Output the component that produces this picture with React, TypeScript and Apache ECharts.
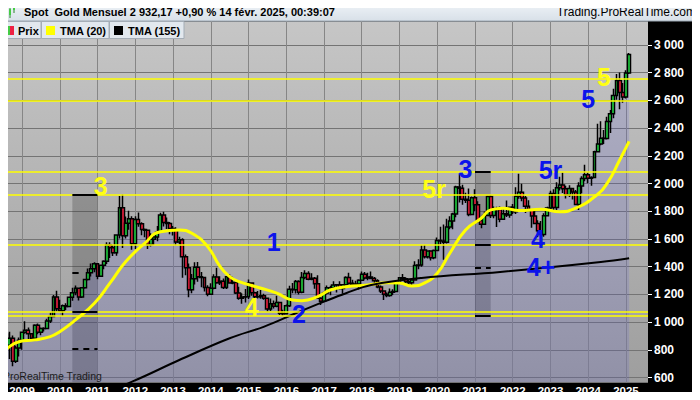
import React, { useEffect, useRef } from 'react';
import * as echarts from 'echarts';

// month categories, Jun 2008 .. Aug 2025 (x axis)
const months: string[] = [];
for (let y = 2008; y <= 2025; y++) {
  for (let m = 1; m <= 12; m++) {
    const key = y + '-' + String(m).padStart(2, '0');
    if (key >= '2008-06' && key <= '2025-08') months.push(key);
  }
}

// monthly candles, Jul 2008 .. Feb 2025
const opens = [
  928, 914, 833, 884, 717, 814,
  869, 927, 942, 916, 884, 978, 927, 954, 955, 1008, 1040, 1182,
  1097, 1083, 1118, 1113, 1180, 1213, 1244, 1181, 1248, 1308, 1357, 1386,
  1421, 1332, 1410, 1439, 1557, 1536, 1500, 1628, 1826, 1624, 1714, 1746,
  1565, 1740, 1710, 1669, 1664, 1560, 1598, 1614, 1648, 1773, 1719, 1712,
  1675, 1664, 1578, 1595, 1472, 1393, 1234, 1314, 1396, 1328, 1323, 1250,
  1202, 1244, 1326, 1284, 1296, 1250, 1327, 1282, 1287, 1210, 1172, 1182,
  1184, 1283, 1213, 1183, 1184, 1190, 1172, 1095, 1132, 1115, 1142, 1065,
  1061, 1118, 1238, 1234, 1293, 1215, 1322, 1351, 1309, 1316, 1277, 1173,
  1151, 1211, 1249, 1249, 1268, 1269, 1242, 1269, 1322, 1280, 1271, 1275,
  1303, 1345, 1318, 1325, 1315, 1298, 1253, 1224, 1201, 1192, 1215, 1222,
  1282, 1321, 1313, 1292, 1284, 1305, 1409, 1413, 1520, 1472, 1513, 1464,
  1517, 1589, 1585, 1577, 1687, 1730, 1781, 1975, 1967, 1886, 1879, 1776,
  1898, 1847, 1734, 1707, 1769, 1906, 1770, 1814, 1813, 1743, 1783, 1774,
  1829, 1796, 1908, 1937, 1896, 1837, 1807, 1766, 1711, 1660, 1633, 1768,
  1824, 1928, 1827, 1969, 1990, 1962, 1919, 1965, 1940, 1849, 1983, 2036,
  2063, 2039, 2044, 2230, 2286, 2327, 2326, 2447, 2503, 2635, 2744, 2657,
  2625, 2798,
];
const highs = [
  988, 916, 930, 904, 830, 889,
  932, 1007, 962, 918, 985, 990, 961, 964, 1024, 1070, 1196, 1227,
  1162, 1128, 1137, 1181, 1249, 1265, 1246, 1249, 1308, 1388, 1424, 1432,
  1424, 1411, 1447, 1576, 1577, 1556, 1632, 1911, 1921, 1763, 1804, 1764,
  1764, 1792, 1721, 1676, 1666, 1641, 1629, 1693, 1790, 1796, 1755, 1723,
  1694, 1684, 1616, 1605, 1488, 1424, 1348, 1433, 1434, 1361, 1324, 1267,
  1280, 1345, 1392, 1331, 1315, 1332, 1345, 1322, 1292, 1256, 1208, 1239,
  1307, 1285, 1220, 1224, 1232, 1205, 1175, 1170, 1157, 1191, 1142, 1089,
  1127, 1263, 1282, 1304, 1303, 1362, 1375, 1367, 1352, 1326, 1338, 1180,
  1220, 1264, 1262, 1295, 1272, 1296, 1274, 1331, 1357, 1306, 1299, 1309,
  1366, 1361, 1356, 1366, 1326, 1309, 1265, 1225, 1214, 1243, 1237, 1284,
  1326, 1347, 1324, 1310, 1306, 1439, 1453, 1555, 1557, 1517, 1517, 1525,
  1611, 1689, 1704, 1747, 1765, 1789, 1984, 2075, 1992, 1933, 1965, 1906,
  1959, 1872, 1755, 1798, 1913, 1916, 1834, 1832, 1835, 1814, 1877, 1831,
  1853, 1974, 2070, 1998, 1910, 1879, 1814, 1808, 1735, 1730, 1786, 1833,
  1949, 1959, 2010, 2049, 2079, 1984, 1987, 1966, 1953, 2009, 2052, 2135,
  2079, 2052, 2236, 2431, 2450, 2387, 2483, 2531, 2685, 2790, 2801, 2726,
  2817, 2942,
];
const lows = [
  908, 786, 735, 681, 705, 753,
  801, 916, 865, 865, 868, 913, 905, 932, 948, 993, 1037, 1076,
  1075, 1045, 1088, 1112, 1155, 1195, 1157, 1175, 1241, 1300, 1330, 1360,
  1309, 1325, 1381, 1419, 1462, 1478, 1480, 1603, 1535, 1603, 1666, 1523,
  1528, 1688, 1627, 1612, 1527, 1546, 1557, 1583, 1643, 1690, 1672, 1635,
  1625, 1555, 1562, 1321, 1338, 1180, 1208, 1271, 1292, 1251, 1221, 1187,
  1202, 1238, 1277, 1268, 1240, 1240, 1282, 1274, 1204, 1161, 1132, 1142,
  1167, 1190, 1142, 1170, 1169, 1162, 1077, 1080, 1098, 1107, 1052, 1046,
  1061, 1110, 1208, 1207, 1200, 1208, 1310, 1302, 1302, 1241, 1171, 1123,
  1146, 1200, 1195, 1244, 1214, 1236, 1205, 1267, 1271, 1261, 1264, 1236,
  1302, 1307, 1303, 1310, 1282, 1245, 1211, 1160, 1180, 1183, 1196, 1221,
  1276, 1303, 1281, 1266, 1267, 1300, 1381, 1400, 1459, 1459, 1445, 1454,
  1517, 1563, 1451, 1568, 1670, 1671, 1757, 1863, 1848, 1860, 1764, 1775,
  1802, 1717, 1677, 1705, 1766, 1751, 1750, 1687, 1721, 1740, 1758, 1753,
  1780, 1781, 1890, 1872, 1787, 1805, 1681, 1709, 1615, 1617, 1616, 1765,
  1804, 1805, 1810, 1950, 1932, 1893, 1903, 1885, 1846, 1810, 1931, 2017,
  2002, 1984, 2039, 2228, 2277, 2286, 2318, 2364, 2472, 2604, 2537, 2583,
  2614, 2790,
];
const closes = [
  914, 833, 884, 717, 814, 869,
  927, 942, 916, 884, 978, 927, 954, 955, 1008, 1040, 1182, 1097,
  1083, 1118, 1113, 1180, 1213, 1244, 1181, 1248, 1308, 1357, 1386, 1421,
  1332, 1410, 1439, 1557, 1536, 1500, 1628, 1826, 1624, 1714, 1746, 1565,
  1740, 1710, 1669, 1664, 1560, 1598, 1614, 1648, 1773, 1719, 1712, 1675,
  1664, 1578, 1595, 1472, 1393, 1234, 1314, 1396, 1328, 1323, 1250, 1202,
  1244, 1326, 1284, 1296, 1250, 1327, 1282, 1287, 1210, 1172, 1182, 1184,
  1283, 1213, 1183, 1184, 1190, 1172, 1095, 1132, 1115, 1142, 1065, 1061,
  1118, 1238, 1234, 1293, 1215, 1322, 1351, 1309, 1316, 1277, 1173, 1151,
  1211, 1249, 1249, 1268, 1269, 1242, 1269, 1322, 1280, 1271, 1275, 1303,
  1345, 1318, 1325, 1315, 1298, 1253, 1224, 1201, 1192, 1215, 1222, 1282,
  1321, 1313, 1292, 1284, 1305, 1409, 1413, 1520, 1472, 1513, 1464, 1517,
  1589, 1585, 1577, 1687, 1730, 1781, 1975, 1967, 1886, 1879, 1776, 1898,
  1847, 1734, 1707, 1769, 1906, 1770, 1814, 1813, 1743, 1783, 1774, 1829,
  1796, 1908, 1937, 1896, 1837, 1807, 1766, 1711, 1660, 1633, 1768, 1824,
  1928, 1827, 1969, 1990, 1962, 1919, 1965, 1940, 1849, 1983, 2036, 2063,
  2039, 2044, 2230, 2286, 2327, 2326, 2447, 2503, 2635, 2744, 2657, 2625,
  2798, 2932.17,
];

// TMA (20)
const tma20: [string, number][] = [
  ['2008-06', 751], ['2008-09', 823], ['2008-12', 859], ['2009-05', 872],
  ['2009-10', 896], ['2010-01', 931], ['2010-06', 1016], ['2010-12', 1136],
  ['2011-05', 1283], ['2011-10', 1437], ['2012-04', 1569], ['2012-09', 1653],
  ['2013-03', 1665], ['2013-07', 1641], ['2013-12', 1545], ['2014-04', 1400],
  ['2014-07', 1328], ['2014-10', 1292], ['2015-05', 1245], ['2015-10', 1209],
  ['2016-03', 1160], ['2016-06', 1155], ['2016-11', 1184], ['2017-03', 1232],
  ['2017-08', 1256], ['2018-03', 1268], ['2018-09', 1285], ['2019-01', 1283],
  ['2019-05', 1261], ['2019-09', 1283], ['2020-01', 1353], ['2020-05', 1497],
  ['2020-10', 1665], ['2021-03', 1750], ['2021-06', 1810], ['2021-10', 1822],
  ['2022-03', 1805], ['2022-10', 1815], ['2023-04', 1797], ['2023-09', 1822],
  ['2024-03', 1905], ['2024-07', 2002], ['2024-11', 2170], ['2025-02', 2303.85],
];

// TMA (155)
const tma155: [string, number][] = [
  ['2010-12', 470], ['2011-12', 571], ['2013-03', 727], ['2014-07', 884],
  ['2015-06', 968], ['2016-04', 1064], ['2017-01', 1148], ['2017-08', 1209],
  ['2018-04', 1268], ['2019-08', 1319], ['2021-09', 1362], ['2024-05', 1434],
  ['2025-02', 1461.28],
];

// horizontal support / resistance levels
const levels = [2755, 2596, 2084, 1918, 1562, 1076, 1043];

// Elliott wave labels: [month, price, text, colour]
const waves: [string, number, string, string][] = [
  ['2011-02', 1984, '3', '#ffff14'],
  ['2019-12', 1962, '5r', '#ffff14'],
  ['2020-10', 2102, '3', '#0c14ea'],
  ['2023-01', 2098, '5r', '#0c14ea'],
  ['2022-09', 1597, '4', '#0c14ea'],
  ['2022-10', 1400, '4+', '#0c14ea'],
  ['2015-09', 1581, '1', '#0c14ea'],
  ['2016-05', 1061, '2', '#0c14ea'],
  ['2015-02', 1106, '4', '#ffff14'],
  ['2024-01', 2612, '5', '#0c14ea'],
  ['2024-06', 2771, '5', '#ffff14'],
];

const FONT = '"Liberation Sans", Arial, sans-serif';

const fmt = (v: number, dec = 0) => {
  const [i, f] = v.toFixed(dec).split('.');
  const s = i.replace(/\B(?=(\d{3})+(?!\d))/g, ' ');
  return f ? s + ',' + f : s;
};

const App: React.FC = () => {
  const chartRef = useRef<HTMLDivElement>(null);

  useEffect(() => {
    const chart = echarts.init(chartRef.current!, undefined, { renderer: 'svg' });

    const candles: any[] = [['-', '-', '-', '-']];
    const area: any[] = ['-'];
    closes.forEach((c, i) => {
      candles.push([opens[i], c, lows[i], highs[i]]);
      area.push(c);
    });

    const seg = (x1: string, x2: string, y: number, dashed = false) => [
      { coord: [x1, y], lineStyle: { color: '#000', width: 2, type: dashed ? [6, 5] : 'solid' } },
      { coord: [x2, y] },
    ];

    const priceTag = (v: number, bg: any, fg: string) => ({
      yAxis: v,
      lineStyle: { width: 0, opacity: 0 },
      label: {
        show: true,
        position: 'end',
        distance: 4,
        formatter: fmt(v, 2),
        backgroundColor: bg,
        color: fg,
        fontFamily: FONT,
        fontWeight: 'bold',
        fontSize: 11,
        padding: [1, 2, 0, 2],
        borderColor: '#555',
        borderWidth: 1,
      },
    });

    const options: any = {
      animation: false,
      grid: { left: 0, right: 52, top: 21, bottom: 17.7, outerBoundsMode: 'none', containLabel: false },
      xAxis: {
        type: 'category',
        data: months,
        boundaryGap: false,
        axisLine: { show: false },
        axisTick: { show: false },
        axisLabel: {
          interval: (_i: number, v: string) => v.endsWith('-01'),
          formatter: (v: string) => v.slice(0, 4),
          color: '#fff',
          fontFamily: FONT,
          fontWeight: 'bold',
          fontSize: 11.5,
          lineHeight: 12,
          verticalAlign: 'middle',
          margin: 8.5,
        },
        splitLine: {
          show: true,
          interval: (_i: number, v: string) => v.endsWith('-01'),
          lineStyle: { color: '#868686', width: 1 },
        },
      },
      yAxis: {
        type: 'value',
        position: 'right',
        min: 566,
        max: 3173,
        splitNumber: 12,
        minInterval: 200,
        maxInterval: 200,
        axisLine: { show: false },
        axisTick: { show: true, length: 4, lineStyle: { color: '#fff' } },
        axisLabel: {
          showMinLabel: false,
          showMaxLabel: false,
          color: '#fff',
          fontFamily: FONT,
          fontWeight: 'bold',
          fontSize: 12,
          margin: 6,
          formatter: (v: number) => fmt(v),
        },
        splitLine: { show: true, lineStyle: { color: '#747474', width: 1 } },
      },
      graphic: [
        // plot background
        {
          type: 'rect', z: -10, silent: true,
          shape: { x: 0, y: 21, width: 648, height: 362 },
          style: {
            fill: { type: 'linear', x: 0, y: 0, x2: 0, y2: 1,
              colorStops: [{ offset: 0, color: '#c6c6c6' }, { offset: 1, color: '#9e9e9e' }] },
          },
        },
        { type: 'rect', z: -9, silent: true, shape: { x: 648, y: 21, width: 52, height: 379 }, style: { fill: '#000' } },
        { type: 'rect', z: -9, silent: true, shape: { x: 0, y: 382.3, width: 700, height: 18 }, style: { fill: '#000' } },
        // title bar
        {
          type: 'rect', z: 50, silent: true,
          shape: { x: 0, y: 0, width: 700, height: 21 },
          style: {
            fill: { type: 'linear', x: 0, y: 0, x2: 0, y2: 1,
              colorStops: [{ offset: 0, color: '#f2f6fa' }, { offset: 1, color: '#d8e0e8' }] },
            stroke: '#9aa6b2', lineWidth: 1,
          },
        },
        { type: 'line', z: 51, shape: { x1: 6, y1: 4, x2: 6, y2: 16 }, style: { stroke: '#2a8a2a', lineWidth: 1 } },
        { type: 'rect', z: 51, shape: { x: 5, y: 7, width: 2, height: 6 }, style: { fill: '#44cc44' } },
        { type: 'line', z: 51, shape: { x1: 10, y1: 6, x2: 10, y2: 18 }, style: { stroke: '#2a8a2a', lineWidth: 1 } },
        { type: 'rect', z: 51, shape: { x: 9, y: 9, width: 2, height: 6 }, style: { fill: '#44cc44' } },
        { type: 'line', z: 51, shape: { x1: 14, y1: 2, x2: 14, y2: 13 }, style: { stroke: '#2a8a2a', lineWidth: 1 } },
        { type: 'rect', z: 51, shape: { x: 13, y: 4, width: 2, height: 6 }, style: { fill: '#44cc44' } },
        {
          type: 'text', z: 51, x: 24, y: 11.5,
          style: { text: 'Spot  Gold Mensuel 2 932,17 +0,90 % 14 févr. 2025, 00:39:07', fill: '#000',
            font: 'bold 11px ' + FONT, verticalAlign: 'middle' },
        },
        {
          type: 'text', z: 51, x: 696, y: 12,
          style: { text: 'Trading.ProRealTime.com', fill: '#000', font: '12px ' + FONT,
            align: 'right', verticalAlign: 'middle' },
        },
        // legend boxes
        { type: 'rect', z: 50, shape: { x: 0.5, y: 21.5, width: 40.5, height: 17 }, style: { fill: '#e2e8ee', stroke: '#a4adb6' } },
        { type: 'rect', z: 50, shape: { x: 41.5, y: 21.5, width: 67.5, height: 17 }, style: { fill: '#e2e8ee', stroke: '#a4adb6' } },
        { type: 'rect', z: 50, shape: { x: 109.5, y: 21.5, width: 74.5, height: 17 }, style: { fill: '#e2e8ee', stroke: '#a4adb6' } },
        { type: 'rect', z: 51, shape: { x: 5, y: 26, width: 5, height: 9 }, style: { fill: '#44cc44' } },
        { type: 'rect', z: 51, shape: { x: 10, y: 26, width: 4, height: 9 }, style: { fill: '#ee2244' } },
        { type: 'rect', z: 51, shape: { x: 46, y: 26, width: 9, height: 9 }, style: { fill: '#ffff00' } },
        { type: 'rect', z: 51, shape: { x: 114, y: 26, width: 9, height: 9 }, style: { fill: '#000' } },
        { type: 'text', z: 51, x: 18, y: 30.5, style: { text: 'Prix', fill: '#000', font: 'bold 11px ' + FONT, verticalAlign: 'middle' } },
        { type: 'text', z: 51, x: 60, y: 30.5, style: { text: 'TMA (20)', fill: '#000', font: 'bold 11px ' + FONT, verticalAlign: 'middle' } },
        { type: 'text', z: 51, x: 128, y: 30.5, style: { text: 'TMA (155)', fill: '#000', font: 'bold 11px ' + FONT, verticalAlign: 'middle' } },
        {
          type: 'text', z: 20, x: 3, y: 376,
          style: { text: 'ProRealTime Trading', fill: '#1c1c1c', font: '10.5px ' + FONT, verticalAlign: 'middle' },
        },
      ],
      series: [
        {
          name: 'area',
          type: 'line',
          data: area,
          symbol: 'none',
          silent: true,
          z: 1,
          lineStyle: { width: 0 },
          areaStyle: { color: 'rgba(80, 80, 220, 0.22)', origin: 'start' },
          markArea: {
            silent: true,
            itemStyle: { color: 'rgba(40, 40, 40, 0.25)' },
            data: [
              [{ coord: ['2010-05', 1918] }, { coord: ['2011-01', 566] }],
              [{ coord: ['2021-01', 2084] }, { coord: ['2021-06', 1043] }],
            ],
          },
          markLine: {
            silent: true,
            symbol: ['none', 'none'],
            label: { show: false },
            lineStyle: { color: '#ffff00', width: 1.5, type: 'solid' },
            data: [
              ...levels.map((v) => ({ yAxis: v })),
              seg('2010-05', '2011-01', 1918),
              seg('2010-05', '2011-01', 1076),
              seg('2010-05', '2010-07', 1360),
              seg('2010-05', '2011-01', 806, true),
              seg('2021-01', '2021-06', 2084),
              seg('2021-01', '2021-06', 1562),
              seg('2021-01', '2021-06', 1391, true),
              seg('2021-01', '2021-06', 1043),
            ],
          },
        },
        {
          name: 'Prix',
          type: 'candlestick',
          data: candles,
          barWidth: 3.4,
          z: 3,
          itemStyle: {
            color: '#22dd44',
            color0: '#ff2244',
            borderColor: '#000',
            borderColor0: '#000',
            borderWidth: 1.5,
          },
          markPoint: {
            silent: true,
            symbol: 'circle',
            symbolSize: 1,
            itemStyle: { color: 'rgba(0,0,0,0)' },
            data: waves.map(([m, v, t, c]) => ({
              name: t,
              coord: [m, v],
              label: {
                show: true, position: 'inside', formatter: t, color: c,
                fontFamily: FONT, fontWeight: 'bold', fontSize: 25, lineHeight: 20,
              },
            })),
          },
          markLine: {
            silent: true,
            symbol: ['none', 'none'],
            data: [priceTag(closes[closes.length - 1], {
              type: 'linear', x: 0, y: 0, x2: 0, y2: 1,
              colorStops: [{ offset: 0, color: '#ffd21a' }, { offset: 1, color: '#eaa800' }],
            }, '#000')],
          },
        },
        {
          name: 'TMA (20)',
          type: 'line',
          data: tma20,
          smooth: 0.5,
          symbol: 'none',
          z: 4,
          lineStyle: { color: '#ffff00', width: 3 },
          markLine: {
            silent: true,
            symbol: ['none', 'none'],
            data: [priceTag(tma20[tma20.length - 1][1], '#9c9c9c', '#ffff00')],
          },
        },
        {
          name: 'TMA (155)',
          type: 'line',
          data: tma155,
          smooth: 0.4,
          symbol: 'none',
          z: 4,
          lineStyle: { color: '#000', width: 2 },
          markLine: {
            silent: true,
            symbol: ['none', 'none'],
            data: [priceTag(tma155[tma155.length - 1][1], '#a8a8a8', '#000')],
          },
        },
      ],
    };

    chart.setOption(options);

    return () => {
      chart.dispose();
    };
  }, []);

  return <div ref={chartRef} style={{ width: '700px', height: '400px', margin: '-8px' }}></div>;
};

export default App;
